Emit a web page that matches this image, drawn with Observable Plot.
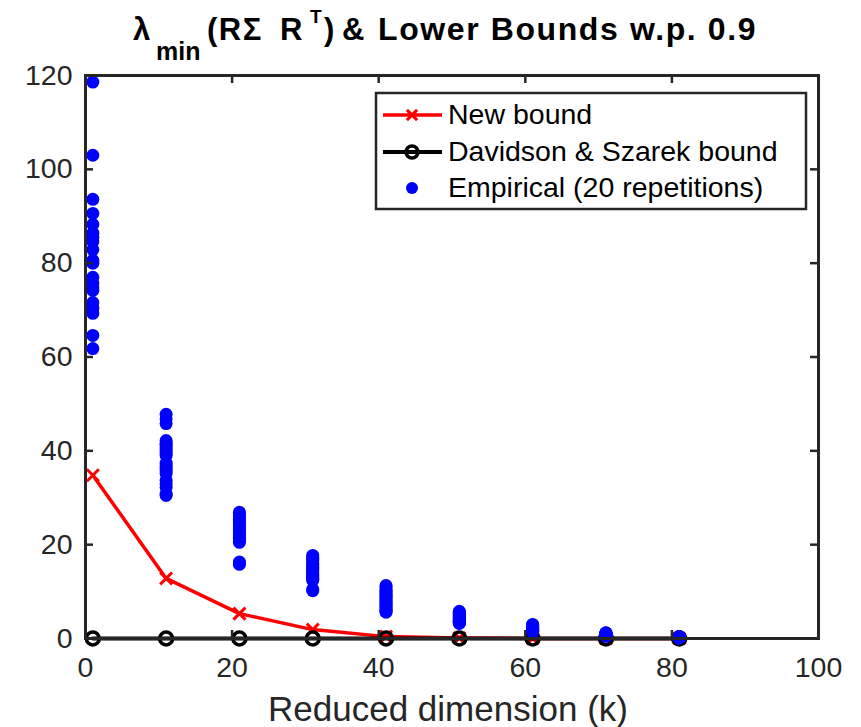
<!DOCTYPE html>
<html>
<head>
<meta charset="utf-8">
<script src="https://cdn.jsdelivr.net/npm/d3@7"></script>
<script src="https://cdn.jsdelivr.net/npm/@observablehq/plot@0.6"></script>
<style>
  html, body { margin: 0; padding: 0; background: white; }
  svg { display: block; }
</style>
</head>
<body>
<div id="chart"></div>
<script>
// ---- data ----
const ks = [1, 11, 21, 31, 41, 51, 61, 71, 81];
const newBound = [34.8, 12.8, 5.3, 1.9, 0.4, 0.1, 0.02, 0, 0];
const dsBound = [0, 0, 0, 0, 0, 0, 0, 0, 0];
const emp1 = [118.6, 103, 93.6, 90.6, 88.3, 86.4, 85.5, 84.6, 82.9, 80.6, 80, 77, 75.7, 74.8, 74.2, 71.6, 70.4, 69.3, 64.6, 61.8];
const emp11 = [47.8, 46.8, 45.8, 42.2, 41.6, 41.2, 40.6, 40.1, 39.5, 39, 37.4, 36.9, 36.3, 35.8, 35.2, 33.7, 33, 32.2, 30.8, 30.5];
const emp21 = [26.9, 26.4, 25.9, 25.4, 25.0, 24.6, 24.2, 23.8, 23.4, 23.0, 22.7, 22.4, 22.0, 21.6, 21.2, 20.8, 20.5, 16.3, 16.0, 15.8];
const emp31 = [17.7, 17.3, 16.9, 16.5, 16.1, 15.8, 15.5, 15.2, 14.9, 14.6, 14.3, 14.0, 13.7, 13.4, 13.1, 12.8, 12.6, 12.4, 10.5, 10.2];
const emp41 = [11.3, 11.0, 10.6, 10.2, 9.9, 9.6, 9.3, 9.0, 8.7, 8.4, 8.1, 7.8, 7.5, 7.2, 6.9, 6.6, 6.3, 6.0, 5.8, 5.6];
const emp51 = [5.8, 5.6, 5.4, 5.2, 5.0, 4.9, 4.7, 4.6, 4.4, 4.3, 4.2, 4.0, 3.9, 3.8, 3.7, 3.6, 3.5, 3.4, 3.3, 3.2];
const emp61 = [3.0, 2.9, 2.8, 2.7, 2.6, 2.5, 2.4, 2.3, 2.2, 2.1, 2.0, 1.95, 1.9, 1.8, 1.75, 1.7, 1.6, 1.55, 1.5, 1.4];
const emp71 = [1.2, 1.15, 1.1, 1.05, 1.0, 0.95, 0.9, 0.88, 0.85, 0.82, 0.8, 0.77, 0.74, 0.7, 0.67, 0.64, 0.6, 0.57, 0.53, 0.5];
const emp81 = [0.4, 0.38, 0.36, 0.34, 0.32, 0.3, 0.28, 0.27, 0.26, 0.25, 0.24, 0.22, 0.21, 0.2, 0.18, 0.17, 0.15, 0.13, 0.12, 0.1];
const empirical = [emp1, emp11, emp21, emp31, emp41, emp51, emp61, emp71, emp81];
const xTicks = [0, 20, 40, 60, 80, 100];
const yTicks = [0, 20, 40, 60, 80, 100, 120];
const xLabel = "Reduced dimension (k)";
const legendLabels = ["New bound", "Davidson & Szarek bound", "Empirical (20 repetitions)"];

// ---- tables ----
const newRows = ks.map((k, i) => ({k, v: newBound[i]}));
const dsRows = ks.map((k, i) => ({k, v: dsBound[i]}));
const empRows = ks.flatMap((k, i) => empirical[i].map(v => ({k, v})));

const W = 861, H = 727, ML = 85, MR = 43, MT = 75, MB = 89;
const innerW = W - ML - MR, innerH = H - MT - MB;
const axisColor = "#262626";
const font = "'Liberation Sans', Arial, Helvetica, sans-serif";

const svg = Plot.plot({
  width: W, height: H,
  marginLeft: ML, marginRight: MR, marginTop: MT, marginBottom: MB,
  style: {fontFamily: font, background: "white", overflow: "visible"},
  x: {domain: [0, 100]},
  y: {domain: [0, 120]},
  marks: [
    Plot.line(newRows, {x: "k", y: "v", stroke: "red", strokeWidth: 3.5}),
    Plot.dot(newRows, {x: "k", y: "v", symbol: "times", r: 5.5, stroke: "red", strokeWidth: 3}),
    Plot.line(dsRows, {x: "k", y: "v", stroke: "black", strokeWidth: 4}),
    Plot.dot(dsRows, {x: "k", y: "v", symbol: "circle", r: 6.5, stroke: "black", fill: "none", strokeWidth: 3.5}),
    Plot.dot(empRows, {x: "k", y: "v", r: 6.5, fill: "#0000ff", stroke: "none"}),
    Plot.axisX({ticks: xTicks, tickSize: 0, tickPadding: 18, fontSize: 28.5, label: null, color: axisColor}),
    Plot.axisY({ticks: yTicks, tickSize: 0, tickPadding: 13, fontSize: 28.5, label: null, color: axisColor}),
    Plot.tickX(xTicks, {x: d => d, insetTop: innerH - 8, stroke: axisColor, strokeWidth: 2.5}),
    Plot.tickX(xTicks, {x: d => d, insetBottom: innerH - 8, stroke: axisColor, strokeWidth: 2.5}),
    Plot.tickY(yTicks, {y: d => d, insetRight: innerW - 8, stroke: axisColor, strokeWidth: 2.5}),
    Plot.tickY(yTicks, {y: d => d, insetLeft: innerW - 8, stroke: axisColor, strokeWidth: 2.5}),
    Plot.frame({stroke: axisColor, strokeWidth: 3}),
    Plot.text([xLabel], {frameAnchor: "bottom", dy: 82, dx: -4, lineAnchor: "bottom", fontSize: 35, fill: axisColor, text: d => d})
  ]
});
document.getElementById("chart").appendChild(svg);

// ---- title ----
const s = d3.select(svg);
const t = s.append("text")
  .attr("y", 40).attr("text-anchor", "start")
  .attr("font-family", font).attr("font-weight", "bold").attr("fill", "black");
const seg = (txt, x, size, y, ls) => t.append("tspan").attr("x", x).attr("y", y)
  .attr("font-size", size).attr("letter-spacing", ls || 0).text(txt);
seg("λ", 133, 31, 40);
seg("min", 156, 25, 60);
seg("(RΣ", 207, 31, 40, 1.5);
seg("R", 280, 31, 40);
seg("T", 310, 19, 23);
seg(")", 324, 31, 40);
seg("&", 342, 31, 40);
seg("Lower Bounds w.p. 0.9", 378, 32, 40, 1.6);

// ---- legend ----
const lg = s.append("g").attr("text-anchor", "start");
lg.append("rect").attr("x", 376).attr("y", 93).attr("width", 430).attr("height", 116)
  .attr("fill", "white").attr("stroke", axisColor).attr("stroke-width", 2.5);
const rowY = [115, 152, 188];
const lx1 = 383, lx2 = 442, lmx = 412;
// New bound
lg.append("line").attr("x1", lx1).attr("x2", lx2).attr("y1", rowY[0]).attr("y2", rowY[0]).attr("stroke", "red").attr("stroke-width", 3.5);
lg.append("path").attr("d", d3.symbol(d3.symbolTimes, 70)()).attr("transform", `translate(${lmx},${rowY[0]})`).attr("stroke", "red").attr("stroke-width", 3).attr("fill", "none");
// D&S
lg.append("line").attr("x1", lx1).attr("x2", lx2).attr("y1", rowY[1]).attr("y2", rowY[1]).attr("stroke", "black").attr("stroke-width", 4);
lg.append("circle").attr("cx", lmx).attr("cy", rowY[1]).attr("r", 6).attr("stroke", "black").attr("stroke-width", 3.5).attr("fill", "none");
// Empirical
lg.append("circle").attr("cx", lmx).attr("cy", rowY[2]).attr("r", 6).attr("fill", "#0000ff");
legendLabels.forEach((lab, i) => {
  lg.append("text").attr("x", 448).attr("y", rowY[i] + 9).attr("font-family", font)
    .attr("font-size", 28.5).attr("fill", "black").attr("text-anchor", "start").text(lab);
});
</script>
</body>
</html>
